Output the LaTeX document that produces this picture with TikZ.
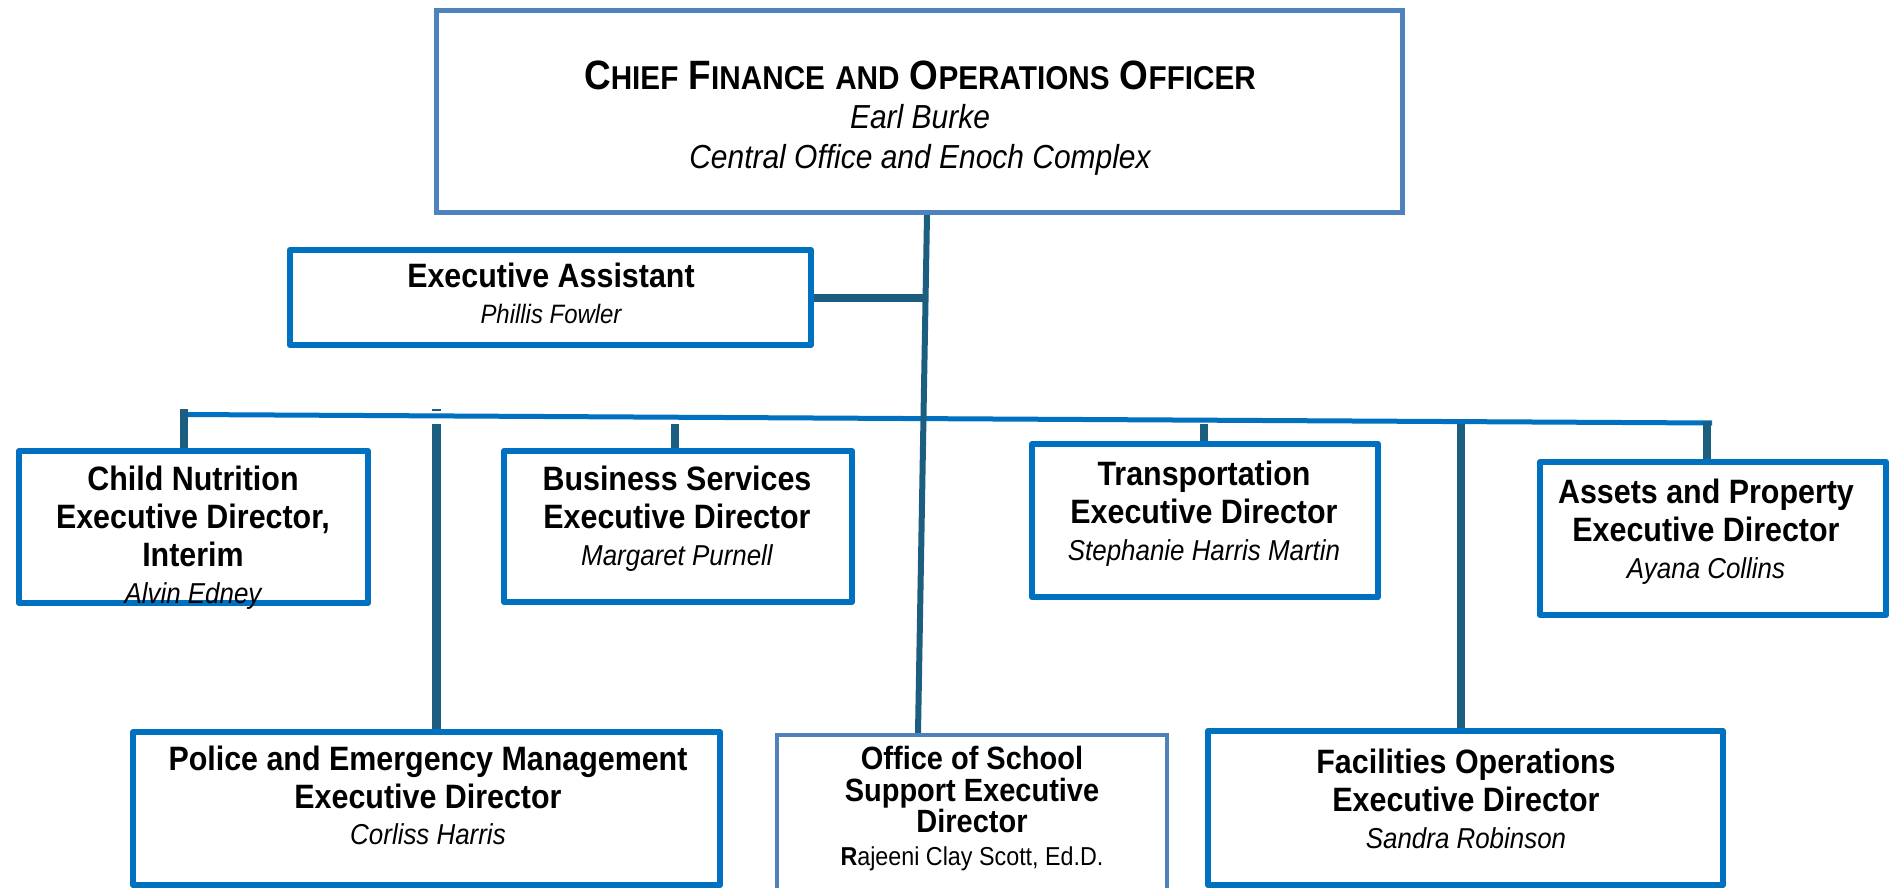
\documentclass[tikz,border=0pt]{standalone}
\usepackage{fontspec}
\setmainfont{Liberation Sans}[FakeStretch=0.9]
\usetikzlibrary{backgrounds}
\definecolor{lnTeal}{HTML}{1B5E80}
\definecolor{bxBlue}{HTML}{0070C0}
\definecolor{bxLight}{HTML}{4F81BD}
\newcommand\bigsmall[2]{{\fontsize{41}{44}\selectfont #1}{\fontsize{33}{44}\selectfont #2}}
\begin{document}
\begin{tikzpicture}[x=1pt,y=-1pt,
  bbox/.style={draw=bxBlue, line width=6pt, fill=white, inner sep=0pt, line join=round},
  lbox/.style={draw=bxLight, line width=5pt, fill=white, inner sep=0pt},
  conn/.style={draw=lnTeal, line width=8pt},
  spine/.style={draw=lnTeal, line width=6pt},
  bus/.style={draw=bxBlue, line width=5pt},
  tl/.style={anchor=base, inner sep=0pt},
  hd/.style={tl, font=\bfseries\fontsize{33.8}{40}\selectfont},
  nm/.style={tl, font=\itshape\fontsize{28.8}{33}\selectfont}]
\useasboundingbox (0,0) rectangle (1890,888);

% boxes
\node[lbox, minimum width=966pt, minimum height=202pt] (cfo) at (919.5,111.5) {};
\node[bbox, minimum width=521pt, minimum height=95pt] (ea) at (550.5,297.5) {};
\node[bbox, minimum width=349pt, minimum height=152pt] (child) at (193.5,527) {};
\node[bbox, minimum width=348pt, minimum height=151pt] (bus) at (678,526.5) {};
\node[bbox, minimum width=346pt, minimum height=153pt] (trans) at (1205,520.5) {};
\node[bbox, minimum width=346pt, minimum height=153pt] (assets) at (1713,538.5) {};
\node[bbox, minimum width=587pt, minimum height=153pt] (police) at (426.5,808.5) {};
\node[lbox, line width=4pt, minimum width=390pt, minimum height=163pt] (office) at (972,816.5) {};
\node[bbox, minimum width=515pt, minimum height=154pt] (fac) at (1465.5,808) {};

% connectors
\begin{scope}[on background layer]
  \coordinate (busL) at (185,414.5);
  \coordinate (busR) at (1712,423);
  \draw[bus] (busL) -- (busR);
  \draw[spine] ([xshift=7.5pt]cfo.south) -- ([xshift=-54pt]office.north);
  \coordinate (eaJ) at (922.5,297.5);
  \draw[conn] (ea.east) -- (eaJ);
  \coordinate (chT) at (184,409);
  \draw[conn] (chT) -- ([xshift=-9.5pt]child.north);
  \coordinate (poT) at (436.5,424);
  \draw[conn, line width=9pt] (poT) -- ([xshift=10pt]police.north);
  \coordinate (dashL) at (432,410);
  \coordinate (dashR) at (441,410);
  \draw[draw=lnTeal, line width=2.5pt] (dashL) -- (dashR);
  \coordinate (buT) at (675,424);
  \draw[conn] (buT) -- ([xshift=-3pt]bus.north);
  \coordinate (trT) at (1204,424);
  \draw[conn] (trT) -- ([xshift=-1pt]trans.north);
  \coordinate (faT) at (1461,424);
  \draw[conn] (faT) -- ([xshift=-4.5pt]fac.north);
  \coordinate (asT) at (1707,421);
  \draw[conn] (asT) -- ([xshift=-6pt]assets.north);
\end{scope}

% texts
\node[tl, font=\bfseries\fontsize{41}{44}\selectfont] (cfo1) at (920,90)
  {\bigsmall{C}{HIEF} \bigsmall{F}{INANCE} {\fontsize{33}{44}\selectfont AND} \bigsmall{O}{PERATIONS} \bigsmall{O}{FFICER}};
\node[tl, font=\itshape\fontsize{33.3}{37}\selectfont] (cfo2) at (920,129) {Earl Burke};
\node[tl, font=\itshape\fontsize{33.3}{37}\selectfont] (cfo3) at (920,168) {Central Office and Enoch Complex};

\node[hd] (ea1) at (551,287) {Executive Assistant};
\node[nm, font=\itshape\fontsize{26.6}{30}\selectfont] (ea2) at (551,323) {Phillis Fowler};

\node[hd] (ch1) at (193,490) {Child Nutrition};
\node[hd] (ch2) at (193,528.5) {Executive Director,};
\node[hd] (ch3) at (193,566.5) {Interim};
\node[nm] (ch4) at (193,603) {Alvin Edney};

\node[hd] (bu1) at (677,490) {Business Services};
\node[hd] (bu2) at (677,528.5) {Executive Director};
\node[nm] (bu3) at (677,565) {Margaret Purnell};

\node[hd] (tr1) at (1204,485) {Transportation};
\node[hd] (tr2) at (1204,523.5) {Executive Director};
\node[nm] (tr3) at (1204,560) {Stephanie Harris Martin};

\node[hd] (as1) at (1706,503) {Assets and Property};
\node[hd] (as2) at (1706,541.5) {Executive Director};
\node[nm] (as3) at (1706,578) {Ayana Collins};

\node[hd] (po1) at (428,770) {Police and Emergency Management};
\node[hd] (po2) at (428,808) {Executive Director};
\node[nm] (po3) at (428,844) {Corliss Harris};

\node[hd, font=\bfseries\fontsize{32.2}{35}\selectfont] (of1) at (972,769) {Office of School};
\node[hd, font=\bfseries\fontsize{32.2}{35}\selectfont] (of2) at (972,801) {Support Executive};
\node[hd, font=\bfseries\fontsize{32.2}{35}\selectfont] (of3) at (972,832) {Director};
\node[tl, font=\fontsize{25.9}{30}\selectfont] (of4) at (972,865) {\textbf{R}ajeeni Clay Scott, Ed.D.};

\node[hd] (fa1) at (1466,773) {Facilities Operations};
\node[hd] (fa2) at (1466,811) {Executive Director};
\node[nm] (fa3) at (1466,848) {Sandra Robinson};
\end{tikzpicture}
\end{document}
